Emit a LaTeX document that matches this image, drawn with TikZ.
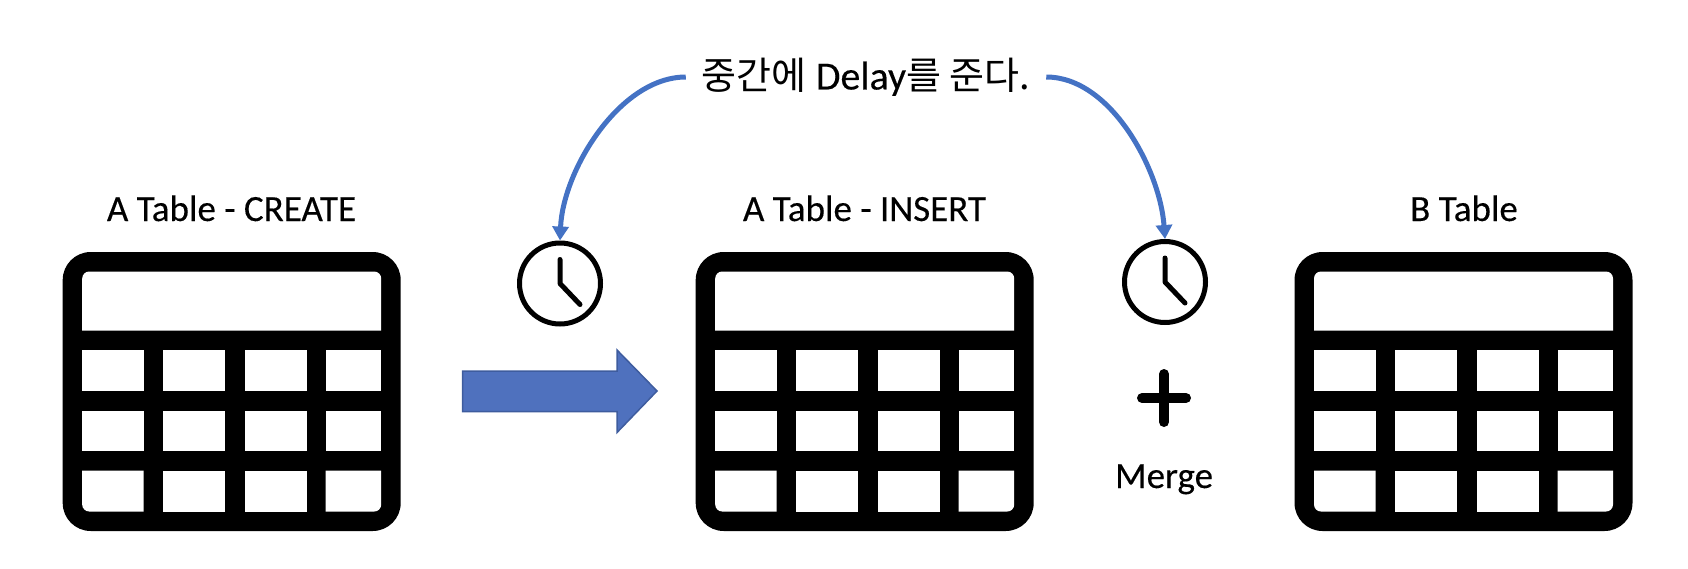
\documentclass[tikz,border=0pt]{standalone}
\usepackage{fontspec}
\setmainfont[FakeBold=0.25]{Carlito}
\newfontfamily\krfont{Noto Sans CJK KR}
\usetikzlibrary{arrows.meta}
\definecolor{curveblue}{HTML}{4472C4}
\definecolor{blockblue}{HTML}{4F71BE}
\definecolor{blockedge}{HTML}{3E5C9E}
\tikzset{
  lbl/.style={font=\fontsize{37}{44}\selectfont, inner sep=0pt, anchor=base},
  clockface/.style={circle, draw=black, line width=5pt, minimum size=81pt, inner sep=0pt},
  hand/.style={draw=black, line width=5pt, line cap=round, line join=round},
  delayarrow/.style={draw=curveblue, line width=5pt, -{Triangle[width=16pt,length=14pt]}},
  cell/.style={fill=white, draw=none},
  pics/datatable/.style={code={
    \fill[black, rounded corners=28pt] (0,0) rectangle (338,279);
    \fill[white] (19.5,78.5) -- (19.5,26.5) .. controls (19.5,22.6) and (22.6,19.5) .. (26.5,19.5)
      -- (311.5,19.5) .. controls (315.4,19.5) and (318.5,22.6) .. (318.5,26.5) -- (318.5,78.5) -- cycle;
    \foreach \ya/\yb in {97.5/139, 158.5/199} {
      \fill[cell] (19.5,\ya) rectangle (81,\yb);
      \fill[cell] (100.5,\ya) rectangle (162.5,\yb);
      \fill[cell] (182,\ya) rectangle (244,\yb);
      \fill[cell] (263,\ya) rectangle (318.5,\yb);
    }
    \fill[cell] (19.5,218.5) -- (81,218.5) -- (81,259.5) -- (26.5,259.5)
      .. controls (22.6,259.5) and (19.5,256.4) .. (19.5,252.5) -- cycle;
    \fill[cell] (100.5,218.5) rectangle (162.5,259.5);
    \fill[cell] (182,218.5) rectangle (244,259.5);
    \fill[cell] (263,218.5) -- (318.5,218.5) -- (318.5,252.5)
      .. controls (318.5,256.4) and (315.4,259.5) .. (311.5,259.5) -- (263,259.5) -- cycle;
  }}
}
\begin{document}
\begin{tikzpicture}[x=1pt,y=-1pt]
\useasboundingbox (0,0) rectangle (1688,568);
\pic at (62.7,252) {datatable};
\pic at (695.7,252) {datatable};
\pic at (1294.5,252) {datatable};
\node[lbl] (t1) at (231.5,221) {A Table - CREATE};
\node[lbl] (t2) at (864.5,221) {A Table - INSERT};
\node[lbl] (t3) at (1464,221) {B Table};
\node[lbl] (merge) at (1164,488) {Merge};
\node[font=\fontsize{40}{48}\selectfont, inner xsep=16pt, inner ysep=0pt] (delay) at (866,77)
  {{\krfont\fontsize{38}{48}\selectfont 중간에} Delay{\krfont\fontsize{38}{48}\selectfont 를 준다.}};
\node[clockface] (c1) at (560,283.5) {};
\node[clockface] (c2) at (1165,282) {};
\draw[hand] ([yshift=24pt]c1.center) -- (c1.center) -- ([xshift=20pt,yshift=-21pt]c1.center);
\draw[hand] ([yshift=24pt]c2.center) -- (c2.center) -- ([xshift=20pt,yshift=-21pt]c2.center);
\draw[delayarrow] (delay.west) .. controls (620,77) and (563,170) .. (c1.north);
\draw[delayarrow] (delay.east) .. controls (1111,77) and (1160,170) .. (c2.north);
\fill[blockblue, draw=blockedge, line width=1.5pt, line join=miter]
  (462.5,371) -- (617,371) -- (617,350) -- (657,391) -- (617,432.5) -- (617,411.5) -- (462.5,411.5) -- cycle;
\draw[black, line width=10pt, line cap=round] (1142,398) -- (1186,398);
\draw[black, line width=10pt, line cap=round] (1164,374) -- (1164,422);
\end{tikzpicture}
\end{document}
